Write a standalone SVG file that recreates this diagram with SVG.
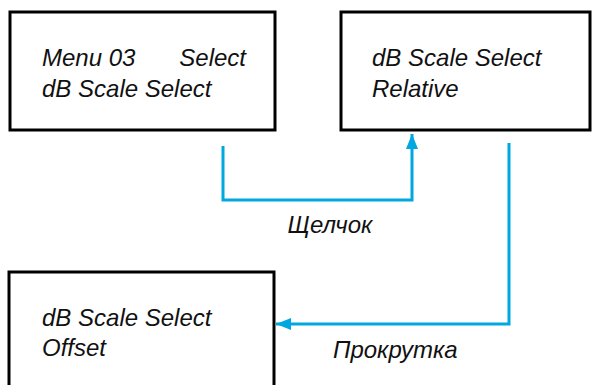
<svg xmlns="http://www.w3.org/2000/svg" width="599" height="385" viewBox="0 0 599 385">
<style>
.box{fill:#fff;stroke:#000;stroke-width:3}
.t{font-family:"Liberation Sans",Arial,sans-serif;font-style:italic;font-size:24px;fill:#111}
.c{fill:none;stroke:#00A8E0;stroke-width:3}
</style>
<defs>
<marker id="ah" viewBox="0 0 10 8" refX="10" refY="4" markerWidth="5" markerHeight="4" markerUnits="strokeWidth" orient="auto">
<path d="M0,0 L10,4 L0,8 z" fill="#00A8E0"/>
</marker>
</defs>
<g id="node1">
<rect class="box" x="10" y="12" width="265" height="118"/>
<text class="t" x="42" y="66">Menu 03</text>
<text class="t" x="246" y="66" text-anchor="end">Select</text>
<text class="t" x="42" y="97">dB Scale Select</text>
</g>
<g id="node2">
<rect class="box" x="341" y="12" width="249" height="118"/>
<text class="t" x="372" y="66">dB Scale Select</text>
<text class="t" x="372" y="97">Relative</text>
</g>
<g id="node3">
<rect class="box" x="9" y="272" width="265" height="130"/>
<text class="t" x="42" y="326">dB Scale Select</text>
<text class="t" x="42" y="356">Offset</text>
</g>
<g id="connectors">
<path class="c" d="M223,146 V200 H412 V134" marker-end="url(#ah)"/>
<path class="c" d="M509,143 V324 H276" marker-end="url(#ah)"/>
<text class="t" x="330" y="233" text-anchor="middle">Щелчок</text>
<text class="t" x="333" y="358">Прокрутка</text>
</g>
</svg>
